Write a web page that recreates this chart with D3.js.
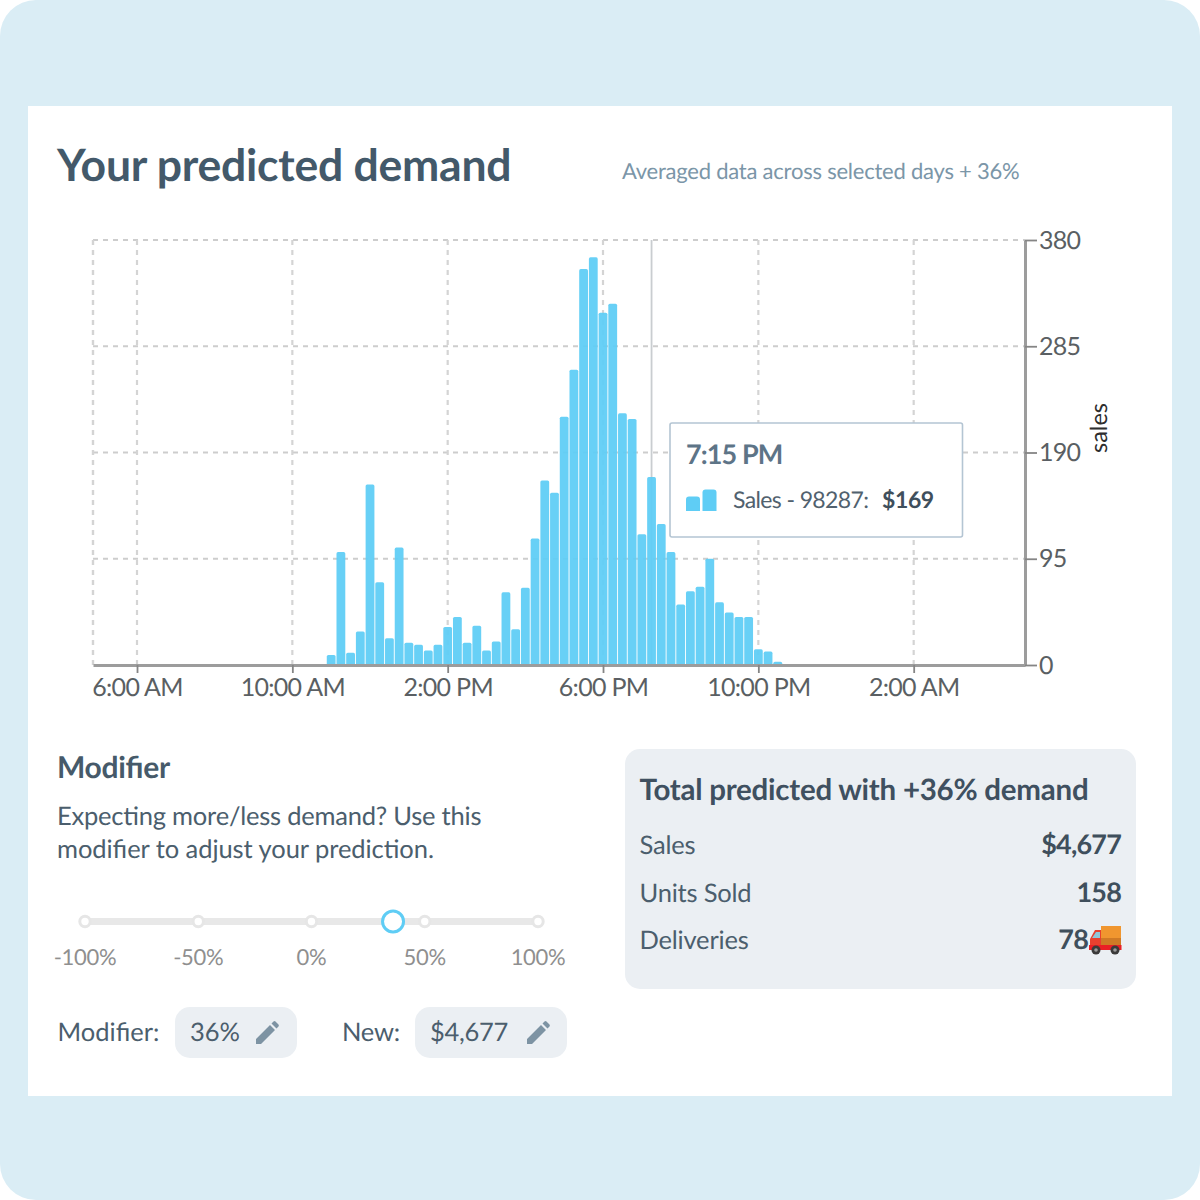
<!DOCTYPE html>
<html><head><meta charset="utf-8">
<script src="https://cdn.jsdelivr.net/npm/d3@7"></script>
<style>
html,body{margin:0;padding:0;background:#fff}
svg{display:block}
text{font-family:Lato,"Open Sans",sans-serif;font-feature-settings:"liga" 1;text-rendering:geometricPrecision}
</style></head><body>
<svg id="c" width="1200" height="1200"></svg>
<script>
const startHour = 11;                 // first bar, 11:00 AM, one bar per 15 minutes
const sales = [9,101,11,30,161.5,74,24,105,20,18,13,18,34,43,20,35,13,21,65,32,69,113,165,154,222,264,354,364.5,315,323,225,220,117,168,126,101,54,66,70,95,56,47,43,43,14,12,3];
const xTickHours = [6,10,14,18,22,26];
const xTickLabels = ["6:00 AM","10:00 AM","2:00 PM","6:00 PM","10:00 PM","2:00 AM"];
const yTicks = [0,95,190,285,380];
const sliderStops = [-100,-50,0,50,100];
const modifierValue = 36;
const hoverHour = 19.25;
const summaryLabels = ["Sales","Units Sold","Deliveries"];
const summaryValues = ["$4,677","158","78"];

const BLUE="#5fcdf5", DARK="#435767";
const svg=d3.select("#c");
svg.append("rect").attr("width",1200).attr("height",1200).attr("rx",36).attr("fill","#daedf5");
svg.append("rect").attr("x",28).attr("y",106).attr("width",1144).attr("height",990).attr("fill","#fff");

const T=(x,y,s,o={})=>svg.append("text").attr("x",x).attr("y",y).text(s)
  .attr("font-size",o.size||25).attr("fill",o.fill||DARK).attr("font-weight",o.w||400)
  .attr("text-anchor",o.anchor||"start").attr("letter-spacing",o.ls||null);

T(57,181,"Your predicted demand",{size:44.5,w:700,fill:"#43596a",ls:-0.24});
T(622,179,"Averaged data across selected days + 36%",{size:22,fill:"#7b96a8",ls:-0.23});

// chart
const hourDate=h=>new Date(2020,0,1,0,h*60);
const x=d3.scaleTime().domain([hourDate(4.867),hourDate(28.867)]).range([93,1025]);
const y=d3.scaleLinear().domain([0,380]).range([665,240]);
const barW=8.8;

const g=svg.append("g");
// grid
g.append("g").selectAll("line").data(yTicks.slice(1)).join("line")
  .attr("x1",93).attr("x2",1025).attr("y1",y).attr("y2",y)
  .attr("stroke","#cdcdcd").attr("stroke-width",1.8).attr("stroke-dasharray","5 5");
g.append("g").selectAll("line").data(xTickHours).join("line")
  .attr("x1",h=>x(hourDate(h))).attr("x2",h=>x(hourDate(h))).attr("y1",240).attr("y2",665)
  .attr("stroke","#d4d4d4").attr("stroke-width",2.2).attr("stroke-dasharray","5 5");
g.append("line").attr("x1",x.range()[0]).attr("x2",x.range()[0]).attr("y1",240).attr("y2",665)
  .attr("stroke","#d4d4d4").attr("stroke-width",2.4).attr("stroke-dasharray","5 5");

// hover line
g.append("line").attr("x1",x(hourDate(hoverHour))).attr("x2",x(hourDate(hoverHour))).attr("y1",240).attr("y2",665)
  .attr("stroke","#c9cdd0").attr("stroke-width",1.8);

// bars
g.append("g").selectAll("path").data(sales).join("path")
  .attr("fill",BLUE).attr("fill-opacity",.94)
  .attr("d",(v,i)=>{
    const c=x(hourDate(startHour+i*0.25)), l=c-barW/2, t=y(v), r=1.6, b=y(0);
    return `M${l},${b}V${t+r}Q${l},${t} ${l+r},${t}H${l+barW-r}Q${l+barW},${t} ${l+barW},${t+r}V${b}Z`;
  });

// axes
const xAxis=d3.axisBottom(x).tickValues(xTickHours.map(hourDate)).tickFormat((d,i)=>xTickLabels[i]).tickSize(8).tickPadding(5).tickSizeOuter(0);
const xg=svg.append("g").attr("transform","translate(0,665)").call(xAxis);
const yAxis=d3.axisRight(y).tickValues(yTicks).tickFormat(d3.format("d")).tickSize(12).tickPadding(2).tickSizeOuter(0);
const yg=svg.append("g").attr("transform","translate(1025,0)").call(yAxis);
[xg,yg].forEach(a=>{
  a.select(".domain").attr("stroke","#9c9c9c").attr("stroke-width",3);
  a.selectAll(".tick line").attr("stroke","#858585").attr("stroke-width",1.8);
  a.selectAll(".tick text").attr("font-size",25).attr("fill","#5a5f63").attr("font-family","Lato,sans-serif").attr("letter-spacing",-0.7);
});
xg.selectAll(".tick text").attr("dy","0.71em");
svg.append("text").attr("transform","translate(1107,428) rotate(-90)").attr("text-anchor","middle")
  .attr("font-size",23.5).attr("fill","#2e2e2e").text("sales");

// tooltip
svg.append("rect").attr("x",670).attr("y",423).attr("width",292.5).attr("height",114).attr("rx",2)
  .attr("fill","#fff").attr("stroke","#b4c5d3").attr("stroke-width",1.6);
T(686,464,"7:15 PM",{size:27,w:700,fill:"#5d7487",ls:-0.9});
const legendIcon=svg.append("g");
[[686,14.5],[702.5,21.5]].forEach(([lx,h])=>legendIcon.append("path")
  .attr("d",`M${lx},511V${511-h+3}Q${lx},${511-h} ${lx+3},${511-h}H${lx+11}Q${lx+14},${511-h} ${lx+14},${511-h+3}V511Z`).attr("fill",BLUE));
T(733,508,"Sales - 98287:",{size:23,fill:"#51616e",ls:-0.62});
T(882,508,"$169",{size:23,w:700,fill:"#3f4f5c",ls:-0.4});

// modifier
T(57,778,"Modifier",{size:30,w:700,fill:"#465a6a",ls:-0.3});
T(57,825,"Expecting more/less demand? Use this",{size:25.5,fill:"#4b5e6d",ls:-0.22});
T(57,858,"modifier to adjust your prediction.",{size:25.5,fill:"#4b5e6d",ls:-0.06});

const sx=d3.scaleLinear().domain([-100,100]).range([85,538]);
svg.append("line").attr("x1",sx(-100)).attr("x2",sx(100)).attr("y1",921.5).attr("y2",921.5)
  .attr("stroke","#e8e8e8").attr("stroke-width",7);
svg.selectAll(".stop").data(sliderStops).join("circle").attr("class","stop")
  .attr("cx",sx).attr("cy",921.5).attr("r",5.2).attr("fill","#fff").attr("stroke","#e6e6e6").attr("stroke-width",3);
svg.selectAll(".stoplabel").data(sliderStops).join("text").attr("class","stoplabel")
  .attr("x",sx).attr("y",965).attr("text-anchor","middle").attr("font-size",22).attr("fill","#8f8f8f").attr("letter-spacing",-0.3)
  .text(d=>d+"%");
svg.append("circle").attr("cx",sx(modifierValue)).attr("cy",921.5).attr("r",10.5)
  .attr("fill","#fff").attr("stroke",BLUE).attr("stroke-width",3);

const pencil=(px,py)=>{ // 24px edit glyph
  svg.append("path").attr("transform",`translate(${px},${py})`)
    .attr("d","M0,23V18L14,4L19,9L5,23ZM15.5,2.5L17.5,.5Q18.5,-.3 19.5,.5L22.5,3.5Q23.3,4.5 22.5,5.5L20.5,7.5Z")
    .attr("fill","#7d93a3");
};
T(57.5,1041,"Modifier:",{size:25.5,fill:"#4b5e6d"});
svg.append("rect").attr("x",175).attr("y",1007).attr("width",122).attr("height",51).attr("rx",15).attr("fill","#ebeff3");
T(190,1041,"36%",{size:25.5,fill:"#4b5e6d"});
pencil(256,1021);
T(342,1041,"New:",{size:25.5,fill:"#4b5e6d",ls:-0.2});
svg.append("rect").attr("x",415).attr("y",1007).attr("width",152).attr("height",51).attr("rx",15).attr("fill","#ebeff3");
T(430,1041,"$4,677",{size:25.5,fill:"#4b5e6d",ls:-0.3});
pencil(527,1021);

// summary
svg.append("rect").attr("x",625).attr("y",749).attr("width",511).attr("height",240).attr("rx",15).attr("fill","#ebeff3");
T(639.5,800,"Total predicted with +36% demand",{size:29.5,w:700,fill:"#3f5060",ls:-0.25});
const rowY=[854,902,949];
summaryLabels.forEach((s,i)=>T(639.5,rowY[i],s,{size:25.5,fill:"#4b5e6d",ls:-0.2}));
T(1121,rowY[0],summaryValues[0],{size:27,w:700,anchor:"end",fill:"#3f4f5c",ls:-0.8});
T(1121,rowY[1],summaryValues[1],{size:27,w:700,anchor:"end",fill:"#3f4f5c",ls:-0.8});
T(1088,rowY[2],summaryValues[2],{size:27,w:700,anchor:"end",fill:"#3f4f5c",ls:-0.8});

// delivery truck glyph
const truck=svg.append("g").attr("transform","translate(1089,926)");
truck.append("rect").attr("x",12).attr("y",0).attr("width",20).attr("height",20).attr("fill","#f0962f");
truck.append("rect").attr("x",12).attr("y",12).attr("width",20).attr("height",8).attr("fill","#cf7a25");
truck.append("path").attr("d","M1,22V13L6,4H12V22Z").attr("fill","#e8402f");
truck.append("path").attr("d","M3,12L7,6H11V12Z").attr("fill","#8fc6d8");
truck.append("rect").attr("x",0).attr("y",19).attr("width",32.5).attr("height",5).attr("fill","#ea1f25");
[7,26].forEach(cx=>{truck.append("circle").attr("cx",cx).attr("cy",24).attr("r",4.5).attr("fill","#3a3a3a");
  truck.append("circle").attr("cx",cx).attr("cy",24).attr("r",1.8).attr("fill","#999");});
</script></body></html>
